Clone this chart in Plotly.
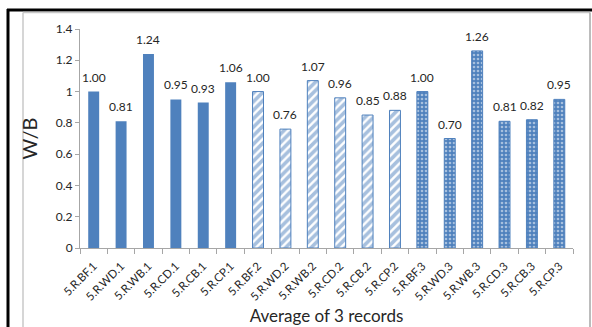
import plotly.graph_objects as go

# W/B ratios, average of 3 records, grouped by record set
labels_1 = ["5.R.BF.1", "5.R.WD.1", "5.R.WB.1", "5.R.CD.1", "5.R.CB.1", "5.R.CP.1"]
values_1 = [1.00, 0.81, 1.24, 0.95, 0.93, 1.06]
labels_2 = ["5.R.BF.2", "5.R.WD.2", "5.R.WB.2", "5.R.CD.2", "5.R.CB.2", "5.R.CP.2"]
values_2 = [1.00, 0.76, 1.07, 0.96, 0.85, 0.88]
labels_3 = ["5.R.BF.3", "5.R.WD.3", "5.R.WB.3", "5.R.CD.3", "5.R.CB.3", "5.R.CP.3"]
values_3 = [1.00, 0.70, 1.26, 0.81, 0.82, 0.95]
y_ticks = [0, 0.2, 0.4, 0.6, 0.8, 1, 1.2, 1.4]

BLUE = "#4F81BD"
FONT = "Lato, Open Sans, sans-serif"
TXT = "#262626"
W, H = 592, 327
L, R, T, B = 80, 573, 29, 248  # plot area in pixels

fig = go.Figure()
fig.add_trace(go.Bar(x=labels_1, y=values_1, width=0.4,
                     marker=dict(color=BLUE, line=dict(width=0))))
fig.add_trace(go.Bar(x=labels_2, y=values_2, width=0.4,
                     marker=dict(color="white", line=dict(color=BLUE, width=1),
                                 pattern=dict(shape="/", fgcolor=BLUE, bgcolor="white",
                                              size=6, solidity=0.6, fillmode="overlay"))))
fig.add_trace(go.Bar(x=labels_3, y=values_3, width=0.4,
                     marker=dict(color=BLUE, line=dict(color=BLUE, width=1),
                                 pattern=dict(shape=".", fgcolor="white", bgcolor=BLUE,
                                              size=4, solidity=0.35, fillmode="overlay"))))

# value labels above each bar
annotations = []
for labs, vals in ((labels_1, values_1), (labels_2, values_2), (labels_3, values_3)):
    for lab, v in zip(labs, vals):
        annotations.append(dict(x=lab, y=v, xref="x", yref="y", text=f"{v:.2f}",
                                showarrow=False, yanchor="bottom", yshift=5,
                                font=dict(size=12, color=TXT, family=FONT)))

def px_x(p):
    return (p - L) / (R - L)

def px_y(p):
    return (B - p) / (B - T)

shapes = [
    # outer black frame (top and left edges)
    dict(type="line", xref="paper", yref="paper", x0=px_x(7), x1=px_x(592), y0=px_y(10), y1=px_y(10),
         line=dict(color="black", width=3)),
    dict(type="line", xref="paper", yref="paper", x0=px_x(8), x1=px_x(8), y0=px_y(9), y1=px_y(327),
         line=dict(color="black", width=3)),
    # light chart-area border
    dict(type="line", xref="paper", yref="paper", x0=px_x(23), x1=px_x(590), y0=px_y(12.5), y1=px_y(12.5),
         line=dict(color="#C8C8C8", width=1.5)),
    dict(type="line", xref="paper", yref="paper", x0=px_x(23), x1=px_x(23), y0=px_y(12.5), y1=px_y(327),
         line=dict(color="#C8C8C8", width=1.5)),
    dict(type="line", xref="paper", yref="paper", x0=px_x(590), x1=px_x(590), y0=px_y(12.5), y1=px_y(327),
         line=dict(color="#A6A6A6", width=1.5)),
]

fig.update_layout(
    width=W, height=H,
    margin=dict(l=L, r=W - R, t=T, b=H - B),
    paper_bgcolor="white", plot_bgcolor="white",
    barmode="overlay", showlegend=False,
    shapes=shapes, annotations=annotations,
    font=dict(family=FONT, color=TXT),
    xaxis=dict(
        categoryorder="array", categoryarray=labels_1 + labels_2 + labels_3,
        tickangle=-45, tickfont=dict(size=11.5, family=FONT, color=TXT),
        ticklabelstandoff=6,
        showline=True, linecolor="#A6A6A6", linewidth=1,
        ticks="outside", tickson="boundaries", ticklen=5, tickcolor="#A6A6A6",
        range=[-0.5, 17.5], showgrid=False, zeroline=False, automargin=False,
        title=dict(text="Average of 3 records", font=dict(size=17, family=FONT, color=TXT),
                   standoff=8),
    ),
    yaxis=dict(
        range=[0, 1.4], tickvals=y_ticks, ticktext=[f"{v:g}" for v in y_ticks],
        tickfont=dict(size=12, family=FONT, color=TXT),
        showline=True, linecolor="#A6A6A6", linewidth=1,
        ticks="outside", ticklen=4, tickcolor="#A6A6A6",
        showgrid=False, zeroline=False, automargin=False,
        title=dict(text="W/B", font=dict(size=20, family=FONT, color=TXT), standoff=12),
    ),
)

fig.write_html("out.html")
